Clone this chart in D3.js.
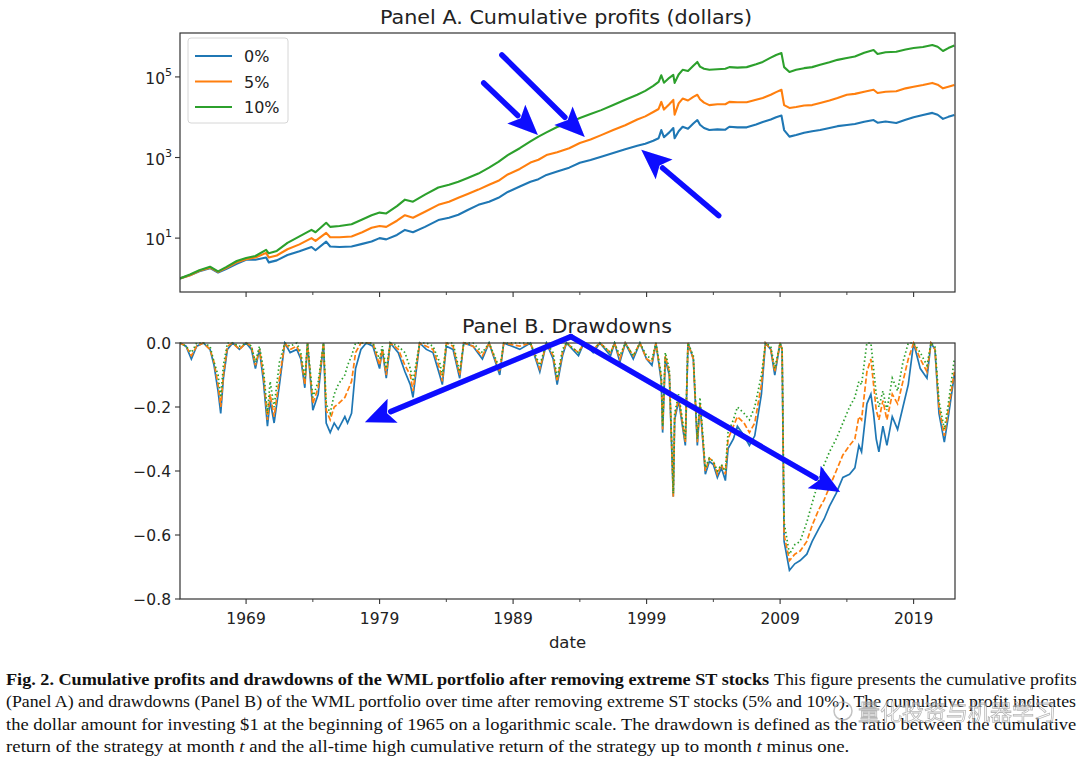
<!DOCTYPE html>
<html><head><meta charset="utf-8">
<script src="https://cdn.jsdelivr.net/npm/d3@7"></script>
<style>body{margin:0;background:#fff} svg{display:block}</style>
</head><body><svg id="c" width="1080" height="760"></svg>
<script>
// ---------- DATA ----------
const seriesNames = ["0%", "5%", "10%"];
const seriesColors = ["#1f77b4", "#ff7f0e", "#2ca02c"];

// Panel A: cumulative profits ($), dates as fractional years
const cumDates = [1964.05,1964.8,1965.5,1966.3,1966.9,1967.5,1968.3,1969.0,1969.7,1970.5,1970.7,1971.3,1972.1,1973.0,1973.9,1974.2,1975.0,1975.3,1976.0,1976.9,1977.7,1978.4,1979.0,1979.5,1980.3,1980.9,1981.5,1982.4,1983.4,1984.2,1984.9,1985.6,1986.4,1987.2,1987.9,1988.6,1989.5,1990.3,1990.9,1991.5,1992.3,1993.2,1994.0,1994.8,1995.6,1996.5,1997.4,1998.3,1998.9,1999.5,1999.9,2000.1,2000.3,2000.7,2001.0,2001.1,2001.4,2001.7,2002.1,2002.5,2002.8,2003.0,2003.3,2003.7,2004.3,2004.9,2005.2,2005.8,2006.5,2007.2,2007.7,2008.3,2008.7,2009.1,2009.3,2009.7,2010.2,2010.8,2011.4,2012.0,2012.7,2013.3,2014.0,2014.6,2015.3,2016.0,2016.3,2016.9,2017.7,2018.4,2019.0,2019.7,2020.4,2020.8,2021.2,2021.6,2022.05];
const cum0 = [1,1.2,1.5,1.8,1.4,1.7,2.3,2.9,2.9,3.3,2.5,2.8,3.8,4.7,6.0,5.0,8.2,6.2,6.0,6.2,7.2,8.2,10,9.3,12,16,14,19,28,32,38,50,67,80,100,140,190,250,290,370,450,560,740,870,1050,1300,1600,1950,2200,2600,3000,4800,3200,4200,5400,3000,4500,5800,5200,7000,8500,6500,5400,4800,5000,4900,5800,5600,5600,6600,7600,8800,10000,11000,4800,3300,3600,4100,4500,4800,5400,6000,6400,6800,7700,8500,7300,7800,7200,8600,10000,11400,12800,11500,9100,10200,11400];
const cum5 = [1,1.2,1.55,1.85,1.45,1.8,2.5,3.0,3.3,4.3,3.3,3.7,5.3,7.0,10,8.5,13.5,10.5,10.5,11,14,18,20,19,27,37,32,45,67,80,100,125,160,210,265,380,520,750,880,1150,1350,1700,2300,2800,3600,4800,6300,8800,10500,13500,16000,24000,15500,21000,27000,11500,22000,29000,26000,32000,36000,28000,23000,20000,21000,21000,24000,23500,23500,27000,30000,36000,42000,48000,20000,17000,18000,19500,20000,22500,26000,30000,36000,38000,43000,48000,40000,43000,44000,52000,57000,63000,71000,64000,52000,57000,63000];
const cum10 = [1,1.25,1.6,1.95,1.5,1.9,2.7,3.2,3.6,5.1,4.2,4.8,7.6,11,16,14,24,19,20,22,29,37,43,41,62,90,80,120,180,210,250,310,400,560,780,1150,1700,2500,3300,4200,5700,7300,9600,12000,15000,20000,27000,36000,45000,60000,75000,110000,72000,95000,112000,71000,115000,150000,140000,190000,236000,180000,160000,150000,155000,160000,175000,170000,175000,205000,236000,300000,350000,390000,175000,133000,150000,165000,175000,200000,230000,265000,296000,320000,400000,466000,370000,410000,420000,480000,520000,555000,620000,560000,440000,520000,600000];

// Panel B: drawdowns
const ddDates = [1964.05,1964.5,1964.9,1965.3,1965.8,1966.3,1966.6,1966.9,1967.1,1967.3,1967.6,1968.0,1968.5,1969.0,1969.4,1969.7,1970.0,1970.3,1970.6,1970.8,1971.1,1971.5,1971.9,1972.3,1972.8,1973.1,1973.4,1973.6,1974.0,1974.4,1974.8,1975.0,1975.3,1975.6,1975.9,1976.4,1976.6,1976.9,1977.2,1977.6,1978.0,1978.5,1979.0,1979.2,1979.5,1979.8,1980.4,1980.9,1981.3,1981.5,1982.0,1982.5,1983.0,1983.5,1983.7,1984.0,1984.5,1985.0,1985.3,1986.0,1986.7,1987.2,1988.0,1988.3,1989.5,1990.3,1991.0,1991.5,1992.0,1992.3,1992.7,1993.0,1993.9,1994.3,1995.0,1995.5,1996.3,1996.6,1997.0,1997.4,1998.0,1998.5,1999.0,1999.4,1999.7,2000.1,2000.2,2000.4,2000.7,2001.0,2001.1,2001.4,2001.9,2002.1,2002.5,2002.8,2003.0,2003.4,2003.7,2004.0,2004.3,2004.6,2004.9,2005.1,2005.5,2005.8,2006.3,2006.7,2007.1,2007.6,2007.9,2008.3,2008.6,2009.0,2009.15,2009.3,2009.7,2010.1,2010.5,2011.0,2011.4,2011.9,2012.3,2012.7,2013.2,2013.7,2014.2,2014.6,2014.9,2015.1,2015.5,2015.8,2016.0,2016.2,2016.4,2016.7,2017.0,2017.4,2017.8,2018.2,2018.6,2019.0,2019.5,2020.0,2020.3,2020.6,2020.9,2021.3,2021.6,2022.05];
const dd0 = [0,-0.01,-0.05,-0.01,0,-0.02,-0.07,-0.15,-0.22,-0.11,-0.02,0,-0.02,0,-0.02,-0.08,-0.02,-0.12,-0.26,-0.18,-0.25,-0.13,0,-0.03,-0.02,-0.05,-0.14,0,-0.21,-0.16,0,-0.25,-0.28,-0.25,-0.27,-0.23,-0.25,-0.22,-0.08,-0.02,0,-0.01,-0.08,-0.02,-0.11,0,-0.03,-0.09,-0.13,-0.17,0,-0.02,-0.03,-0.10,-0.13,-0.01,-0.02,-0.11,0,-0.01,-0.05,0,-0.10,0,-0.02,0,-0.09,0,-0.05,-0.13,-0.04,0,-0.04,0,-0.03,0,-0.04,0,-0.06,0,-0.05,0,-0.05,-0.07,0,-0.12,-0.28,-0.05,-0.10,-0.48,-0.24,-0.18,-0.32,0,-0.05,-0.32,-0.19,-0.41,-0.37,-0.38,-0.42,-0.39,-0.43,-0.33,-0.30,-0.26,-0.29,-0.32,-0.29,-0.16,0,-0.02,-0.10,0,-0.02,-0.62,-0.71,-0.69,-0.68,-0.66,-0.62,-0.58,-0.55,-0.51,-0.47,-0.42,-0.41,-0.39,-0.32,-0.34,-0.19,-0.16,-0.22,-0.30,-0.34,-0.26,-0.32,-0.23,-0.27,-0.20,-0.13,0,-0.08,-0.11,0,-0.02,-0.22,-0.31,-0.23,-0.10];
const dd5 = [0,-0.01,-0.04,-0.01,0,-0.02,-0.06,-0.13,-0.20,-0.10,-0.01,0,-0.02,0,-0.01,-0.07,-0.02,-0.10,-0.24,-0.16,-0.23,-0.11,0,-0.02,-0.01,-0.04,-0.13,0,-0.19,-0.14,0,-0.21,-0.24,-0.20,-0.19,-0.17,-0.15,-0.12,-0.03,0,0,0,-0.07,-0.02,-0.10,0,-0.02,-0.07,-0.10,-0.15,0,-0.01,-0.02,-0.08,-0.12,0,-0.01,-0.10,0,-0.01,-0.04,0,-0.09,0,-0.01,0,-0.08,0,-0.04,-0.12,-0.03,0,-0.03,0,-0.02,0,-0.03,0,-0.05,0,-0.04,0,-0.05,-0.06,0,-0.11,-0.27,-0.04,-0.09,-0.48,-0.23,-0.17,-0.31,0,-0.05,-0.31,-0.19,-0.40,-0.36,-0.37,-0.41,-0.38,-0.41,-0.30,-0.26,-0.23,-0.25,-0.28,-0.25,-0.13,0,-0.02,-0.09,0,-0.02,-0.60,-0.68,-0.66,-0.65,-0.62,-0.57,-0.52,-0.49,-0.45,-0.40,-0.35,-0.32,-0.30,-0.23,-0.24,-0.09,-0.05,-0.13,-0.21,-0.24,-0.18,-0.24,-0.16,-0.19,-0.12,-0.05,0,-0.05,-0.09,0,-0.02,-0.20,-0.29,-0.21,-0.09];
const dd10 = [0,-0.01,-0.03,0,0,-0.01,-0.06,-0.10,-0.17,-0.07,0,0,-0.01,0,-0.01,-0.06,-0.01,-0.08,-0.22,-0.12,-0.20,-0.06,0,-0.01,0,-0.03,-0.11,0,-0.17,-0.12,0,-0.19,-0.22,-0.16,-0.13,-0.10,-0.07,-0.04,0,0,0,0,-0.05,-0.01,-0.08,0,-0.01,-0.03,-0.08,-0.12,0,0,-0.01,-0.06,-0.10,0,0,-0.09,0,0,-0.03,0,-0.08,0,0,0,-0.07,0,-0.03,-0.11,-0.02,0,-0.03,0,-0.02,0,-0.03,0,-0.04,0,-0.04,0,-0.04,-0.05,0,-0.10,-0.26,-0.03,-0.08,-0.47,-0.22,-0.16,-0.30,0,-0.04,-0.30,-0.17,-0.39,-0.36,-0.37,-0.40,-0.38,-0.40,-0.28,-0.24,-0.20,-0.22,-0.24,-0.20,-0.10,0,-0.01,-0.08,0,-0.02,-0.56,-0.66,-0.63,-0.62,-0.56,-0.50,-0.43,-0.38,-0.34,-0.30,-0.25,-0.20,-0.17,-0.12,-0.13,0,0,-0.08,-0.16,-0.20,-0.15,-0.21,-0.11,-0.15,-0.06,0,0,-0.03,-0.07,0,-0.01,-0.18,-0.27,-0.19,-0.05];

// Axis ticks
const majorYears = [1969, 1979, 1989, 1999, 2009, 2019];
const yearLabels = ["1969", "1979", "1989", "1999", "2009", "2019"];
const minorYears = [1974, 1984, 1994, 2004, 2014];
const logTicks = [10, 1000, 100000];
const logTickExp = ["1", "3", "5"];
const ddTicks = [0, -0.2, -0.4, -0.6, -0.8];
const ddTickLabels = ["0.0", "\u22120.2", "\u22120.4", "\u22120.6", "\u22120.8"];

// Annotation arrows (data coordinates: [year, value])
const arrowsA = [
  {from: [1986.8, 71000], to: [1990.86, 3630]},
  {from: [1988.16, 350000], to: [1994.37, 3250]},
  {from: [2004.4, 36], to: [1998.6, 1550]}
];
const arrowsB = [
  {from: [1993.33, 0.02], to: [1977.9, -0.248]},
  {from: [1993.33, 0.02], to: [2013.5, -0.466]}
];

const titleA = "Panel A. Cumulative profits (dollars)";
const titleB = "Panel B. Drawdowns";
const xLabel = "date";
const captionBold = "Fig. 2.  Cumulative profits and drawdowns of the WML portfolio after removing extreme ST stocks";
const captionL1 = "This figure presents the cumulative profits";
const captionL2 = "(Panel A) and drawdowns (Panel B) of the WML portfolio over time after removing extreme ST stocks (5% and 10%). The cumulative profit indicates";
const captionL3 = "the dollar amount for investing $1 at the beginning of 1965 on a logarithmic scale. The drawdown is defined as the ratio between the cumulative";
const captionL4 = [["return of the strategy at month ", false], ["t", true], [" and the all-time high cumulative return of the strategy up to month ", false], ["t", true], [" minus one.", false]];
const watermark = "量化投资与机器学习";

// ---------- CHART ----------
const svg = d3.select("#c");
const L = 180, R = 955;
const A = {top: 33, bottom: 292};
const B = {top: 343, bottom: 599};
const font = "'DejaVu Sans', sans-serif";
const axisColor = "#333";

const x = d3.scaleLinear().domain([1964.05, 2022.1]).range([L, R]);
const yA = d3.scaleLog().domain([0.46, 1.23e6]).range([A.bottom, A.top]);
const yB = d3.scaleLinear().domain([-0.8, 0]).range([B.bottom, B.top]);

const defs = svg.append("defs");
defs.append("clipPath").attr("id", "clipA").append("rect").attr("x", L).attr("y", A.top).attr("width", R - L).attr("height", A.bottom - A.top);
defs.append("clipPath").attr("id", "clipB").append("rect").attr("x", L).attr("y", B.top - 2).attr("width", R - L).attr("height", B.bottom - B.top + 2);
defs.append("filter").attr("id", "soft").append("feGaussianBlur").attr("stdDeviation", 0.6);

function fitText(sel, x0, y0, w, anchor) {
  const nw = sel.node().getComputedTextLength();
  const sx = w / nw;
  const left = anchor === "middle" ? x0 - w / 2 : x0;
  sel.attr("x", 0).attr("y", 0).attr("text-anchor", "start")
    .attr("transform", `translate(${left},${y0}) scale(${sx},1)`);
}

// Panel A lines
const cumSeries = [cum0, cum5, cum10];
const lineA = d3.line().x(d => x(d[0])).y(d => yA(d[1]));
const gA = svg.append("g").attr("clip-path", "url(#clipA)");
cumSeries.forEach((s, i) => {
  gA.append("path").datum(cumDates.map((d, k) => [d, s[k]]))
    .attr("d", lineA).attr("fill", "none").attr("stroke", seriesColors[i])
    .attr("stroke-width", 2.1).attr("stroke-linejoin", "round");
});

// Panel B lines
const ddSeries = [dd0, dd5, dd10];
const dashes = [null, "5.5,2.4", "1.5,2.6"];
const lineB = d3.line().x(d => x(d[0])).y(d => yB(d[1]));
const gB = svg.append("g").attr("clip-path", "url(#clipB)");
ddSeries.forEach((s, i) => {
  gB.append("path").datum(ddDates.map((d, k) => [d, s[k]]))
    .attr("d", lineB).attr("fill", "none").attr("stroke", seriesColors[i])
    .attr("stroke-width", 1.7).attr("stroke-dasharray", dashes[i]);
});

// Frames
[A, B].forEach(p => {
  svg.append("rect").attr("x", L).attr("y", p.top).attr("width", R - L).attr("height", p.bottom - p.top)
    .attr("fill", "none").attr("stroke", axisColor).attr("stroke-width", 1.2);
});

// X ticks both panels
[A, B].forEach(p => {
  svg.selectAll(null).data(majorYears).enter().append("line")
    .attr("x1", d => x(d)).attr("x2", d => x(d)).attr("y1", p.bottom).attr("y2", p.bottom + 5)
    .attr("stroke", axisColor).attr("stroke-width", 1.1);
  svg.selectAll(null).data(minorYears).enter().append("line")
    .attr("x1", d => x(d)).attr("x2", d => x(d)).attr("y1", p.bottom).attr("y2", p.bottom + 3)
    .attr("stroke", axisColor).attr("stroke-width", 0.9);
});
svg.selectAll(null).data(majorYears).enter().append("text")
  .attr("x", d => x(d)).attr("y", B.bottom + 25).attr("text-anchor", "middle")
  .attr("font-family", font).attr("font-size", 15.5).attr("fill", "#222")
  .text((d, i) => yearLabels[i]);
svg.append("text").attr("x", (L + R) / 2).attr("y", B.bottom + 49).attr("text-anchor", "middle")
  .attr("font-family", font).attr("font-size", 16.5).attr("fill", "#222").text(xLabel);

// Y ticks A
logTicks.forEach((t, i) => {
  const yy = yA(t);
  svg.append("line").attr("x1", L - 5).attr("x2", L).attr("y1", yy).attr("y2", yy).attr("stroke", axisColor).attr("stroke-width", 1.1);
  svg.append("text").attr("x", L - 15).attr("y", yy + 7).attr("text-anchor", "end")
    .attr("font-family", font).attr("font-size", 15.5).attr("fill", "#222").text("10");
  svg.append("text").attr("x", L - 8).attr("y", yy - 1).attr("text-anchor", "end")
    .attr("font-family", font).attr("font-size", 11).attr("fill", "#222").text(logTickExp[i]);
});
// Y ticks B
ddTicks.forEach((t, i) => {
  const yy = yB(t);
  svg.append("line").attr("x1", L - 5).attr("x2", L).attr("y1", yy).attr("y2", yy).attr("stroke", axisColor).attr("stroke-width", 1.1);
  svg.append("text").attr("x", L - 9).attr("y", yy + 5.5).attr("text-anchor", "end")
    .attr("font-family", font).attr("font-size", 15.5).attr("fill", "#222").text(ddTickLabels[i]);
});

// Titles
fitText(svg.append("text").attr("font-family", font).attr("font-size", 19.5).attr("fill", "#222").text(titleA), 566, 24, 372, "middle");
fitText(svg.append("text").attr("font-family", font).attr("font-size", 19.5).attr("fill", "#222").text(titleB), 567, 333, 210, "middle");

// Legend
const lg = svg.append("g");
lg.append("rect").attr("x", 188).attr("y", 38).attr("width", 100).attr("height", 85).attr("rx", 3)
  .attr("fill", "rgba(255,255,255,0.85)").attr("stroke", "#d6d6d6").attr("stroke-width", 1);
seriesNames.forEach((n, i) => {
  const yy = 56 + i * 25.5;
  lg.append("line").attr("x1", 195).attr("x2", 232).attr("y1", yy).attr("y2", yy)
    .attr("stroke", seriesColors[i]).attr("stroke-width", 2.2);
  lg.append("text").attr("x", 244).attr("y", yy + 6).attr("font-family", font).attr("font-size", 16)
    .attr("fill", "#222").text(n);
});

// Arrows
const arrowColor = "#0a0aff";
function drawArrow(g, p0, p1) {
  const dx = p1[0] - p0[0], dy = p1[1] - p0[1];
  const len = Math.hypot(dx, dy), ux = dx / len, uy = dy / len;
  const hl = 30, hw = 13;
  const bx = p1[0] - ux * hl, by = p1[1] - uy * hl;
  g.append("line").attr("x1", p0[0]).attr("y1", p0[1]).attr("x2", bx + ux * 2).attr("y2", by + uy * 2)
    .attr("stroke", arrowColor).attr("stroke-width", 5.5).attr("stroke-linecap", "round");
  g.append("path").attr("d", `M${p1[0]},${p1[1]}L${bx - uy * hw},${by + ux * hw}L${bx + ux * 6},${by + uy * 6}L${bx + uy * hw},${by - ux * hw}Z`)
    .attr("fill", arrowColor);
}
const ga = svg.append("g").attr("filter", "url(#soft)");
arrowsA.forEach(a => drawArrow(ga, [x(a.from[0]), yA(a.from[1])], [x(a.to[0]), yA(a.to[1])]));
arrowsB.forEach(a => drawArrow(ga, [x(a.from[0]), yB(a.from[1])], [x(a.to[0]), yB(a.to[1])]));

// Caption
const capFont = "'Liberation Serif', 'DejaVu Serif', serif";
const cap = svg.append("g").attr("font-family", capFont).attr("font-size", 17.5).attr("fill", "#111");
fitText(cap.append("text").attr("font-weight", "bold").text(captionBold), 6, 685, 764);
fitText(cap.append("text").text(captionL1), 774, 685, 303);
fitText(cap.append("text").text(captionL2), 6, 707, 1071);
fitText(cap.append("text").text(captionL3), 6, 730, 1071);
const t4 = cap.append("text");
captionL4.forEach(([s, it]) => t4.append("tspan").attr("font-style", it ? "italic" : null).text(s));
fitText(t4, 6, 752, 844);

// Watermark (semi-transparent overlay, as in the reference)
const wm = svg.append("g").attr("opacity", 0.7);
wm.append("circle").attr("cx", 843).attr("cy", 711).attr("r", 9).attr("fill", "none").attr("stroke", "#aaa").attr("stroke-width", 1.5);
wm.append("text").attr("x", 858).attr("y", 720).attr("font-family", "'Noto Sans CJK SC', sans-serif").attr("font-size", 22)
  .attr("fill", "rgba(255,255,255,0.7)").attr("stroke", "#999").attr("stroke-width", 0.8).text(watermark);
</script></body></html>
